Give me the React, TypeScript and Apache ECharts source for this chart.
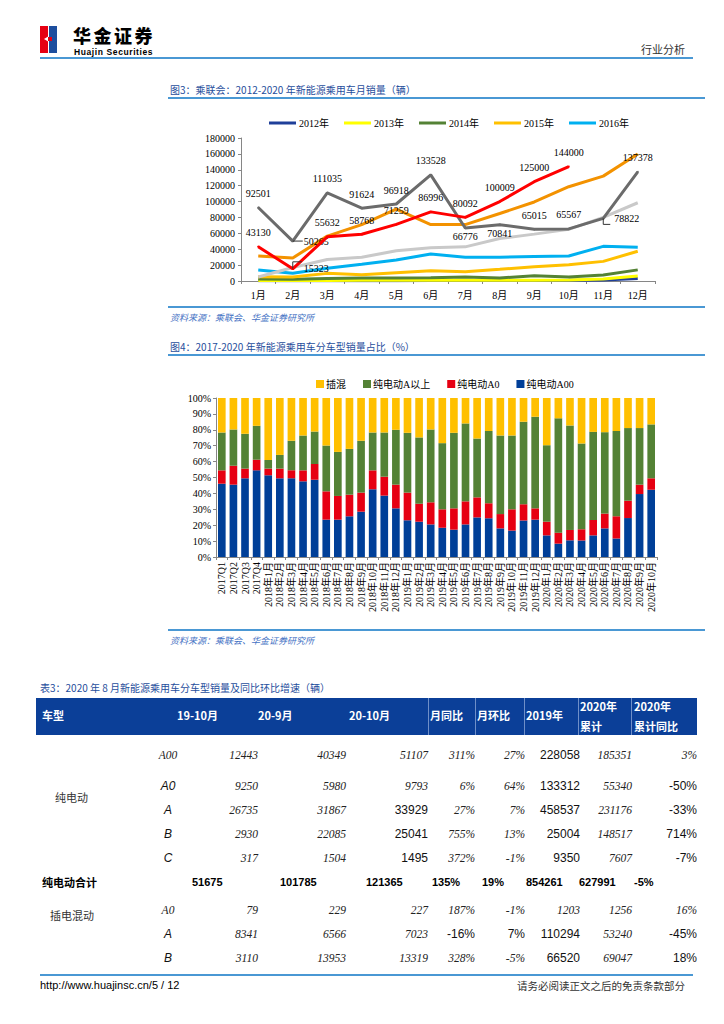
import React, { useEffect, useRef } from "react";
import * as echarts from "echarts";

// ---------- Chart 1 data ----------
const months = ["1月", "2月", "3月", "4月", "5月", "6月", "7月", "8月", "9月", "10月", "11月", "12月"];
const yearNames = ["2012年", "2013年", "2014年", "2015年", "2016年", "2017年", "2018年", "2019年", "2020年"];
const y2012 = [200, 300, 400, 400, 400, 500, 500, 600, 700, 800, 1200, 3300];
const y2013 = [500, 500, 700, 800, 900, 900, 1000, 1000, 1100, 1200, 2500, 6300];
const y2014 = [2500, 2200, 3300, 3800, 3800, 4200, 5000, 3800, 6700, 5000, 7500, 14000];
const y2015 = [5500, 5000, 9600, 8000, 10500, 13000, 11700, 14700, 18000, 20500, 24700, 37400];
const y2016 = [13800, 9700, 16000, 21000, 26400, 34000, 29800, 30000, 30800, 31500, 43600, 42500];
const y2017 = [5000, 17000, 27000, 29800, 38000, 42000, 43000, 53600, 59000, 65000, 80000, 98500];
const y2018 = [31500, 29000, 56500, 71000, 90500, 71000, 71000, 85000, 99500, 118700, 132000, 160000];
const y2019 = [92501, 50265, 111035, 91624, 96918, 133528, 66776, 70841, 65015, 65567, 78822, 137378];
const y2020 = [43130, 15323, 55632, 58768, 71259, 86996, 80092, 100009, 125000, 144000];
const lineColors = ["#1F3F99", "#FFFF00", "#548235", "#FFC000", "#00B0F0", "#C9C9C9", "#F39200", "#6B6B6B", "#FF0000"];

// ---------- Chart 2 data ----------
const periods = [
  "2017Q1", "2017Q2", "2017Q3", "2017Q4",
  "2018年1月", "2018年2月", "2018年3月", "2018年4月", "2018年5月", "2018年6月", "2018年7月", "2018年8月", "2018年9月", "2018年10月", "2018年11月", "2018年12月",
  "2019年1月", "2019年2月", "2019年3月", "2019年4月", "2019年5月", "2019年6月", "2019年7月", "2019年8月", "2019年9月", "2019年10月", "2019年11月", "2019年12月",
  "2020年1月", "2020年2月", "2020年3月", "2020年4月", "2020年5月", "2020年6月", "2020年7月", "2020年8月", "2020年9月", "2020年10月",
];
const shareA00 = [46.1, 45.5, 49.5, 54.5, 51.4, 49.5, 49.5, 47.6, 48.6, 23.5, 23.5, 25.6, 28.5, 42.6, 38.6, 30.6, 23.1, 22.2, 20.5, 18.4, 17.2, 20.5, 24.9, 24.3, 18.0, 16.6, 22.9, 23.5, 13.6, 8.4, 10.5, 10.3, 13.6, 18.0, 11.7, 24.5, 39.6, 42.3];
const shareA0 = [8.4, 11.9, 6.1, 6.7, 4.2, 6.1, 5.0, 6.9, 9.9, 17.8, 14.9, 13.6, 12.0, 11.9, 11.9, 14.9, 17.4, 11.3, 13.9, 11.6, 13.4, 14.5, 12.6, 9.5, 9.0, 13.4, 10.2, 7.1, 8.6, 6.9, 6.5, 7.1, 9.7, 9.3, 13.9, 10.9, 5.9, 7.2];
const shareAPlus = [23.8, 22.8, 21.9, 21.3, 5.4, 8.6, 18.6, 21.9, 20.4, 28.8, 27.7, 28.8, 32.6, 23.8, 27.8, 34.5, 37.6, 41.7, 45.8, 41.6, 47.5, 49.0, 37.0, 45.4, 49.4, 46.4, 52.0, 57.6, 48.1, 71.9, 65.7, 54.0, 55.4, 51.2, 53.6, 45.7, 35.6, 33.9];
const sharePHEV = [21.7, 19.8, 22.5, 17.5, 39.0, 35.8, 26.9, 23.6, 21.1, 29.9, 33.9, 32.0, 26.9, 21.7, 21.7, 20.0, 21.9, 24.8, 19.8, 28.4, 21.9, 16.0, 25.5, 20.8, 23.6, 23.6, 14.9, 11.8, 29.7, 12.8, 17.3, 28.6, 21.3, 21.5, 20.8, 18.9, 18.9, 16.6];
const shareNames = ["插混", "纯电动A以上", "纯电动A0", "纯电动A00"];
const shareColors = ["#FFC000", "#548235", "#E60012", "#003F98"];

// ---------- Table data ----------
const tableHead = ["车型", "19-10月", "20-9月", "20-10月", "月同比", "月环比", "2019年", "2020年", "2020年"];
const tableHead2 = ["", "", "", "", "", "", "", "累计", "累计同比"];
const evLabel = "纯电动";
const evTypes = ["A00", "A0", "A", "B", "C"];
const evRows = [
  ["12443", "40349", "51107", "311%", "27%", "228058", "185351", "3%"],
  ["9250", "5980", "9793", "6%", "64%", "133312", "55340", "-50%"],
  ["26735", "31867", "33929", "27%", "7%", "458537", "231176", "-33%"],
  ["2930", "22085", "25041", "755%", "13%", "25004", "148517", "714%"],
  ["317", "1504", "1495", "372%", "-1%", "9350", "7607", "-7%"],
];
const evFonts = ["ssssssass", "asssssasa", "assassasa", "assassasa", "assassasa"];
const evTotalLabel = "纯电动合计";
const evTotal = ["51675", "101785", "121365", "135%", "19%", "854261", "627991", "-5%"];
const phevLabel = "插电混动";
const phevTypes = ["A0", "A", "B"];
const phevRows = [
  ["79", "229", "227", "187%", "-1%", "1203", "1256", "16%"],
  ["8341", "6566", "7023", "-16%", "7%", "110294", "53240", "-45%"],
  ["3110", "13953", "13319", "328%", "-5%", "66520", "69047", "18%"],
];
const phevFonts = ["sssssssss", "asssaaasa", "asssssasa"];

// ---------- layout constants ----------
const SERIF = "'Liberation Serif', 'Times New Roman', 'Noto Sans CJK SC', serif";
const SANS = "'Liberation Sans', Arial, 'Noto Sans CJK SC', sans-serif";
const CJK = "'Noto Sans CJK SC', 'Liberation Sans', sans-serif";
const BLUE_LINE = "#4A98D4";
const TITLE_BLUE = "#1F4E9C";

const colRight = [0, 258, 346, 428, 475, 525, 580, 632, 697];
const totalLeft = [42, 192, 280, 366, 432, 482, 526, 579, 634];
const headLeft = [42, 177, 258, 349, 430, 477, 526, 580, 634];
const dividers = [428, 475, 524, 578, 631];
const evY = [756, 787, 811, 835, 859];
const totalY = 883;
const phevY = [911, 935, 959];

function T(props: { x: number; y: number; align?: "left" | "right" | "center"; size?: number; lh?: number; style?: React.CSSProperties; children: React.ReactNode }) {
  const { x, y, align = "left", size = 11, lh, style, children } = props;
  const h = lh || size * 1.4;
  const base: React.CSSProperties = {
    position: "absolute",
    top: y - h / 2,
    height: h,
    lineHeight: h + "px",
    fontSize: size,
    whiteSpace: "nowrap",
  };
  if (align === "left") base.left = x;
  else if (align === "right") { base.right = 724 - x; base.textAlign = "right"; }
  else { base.left = x - 100; base.width = 200; base.textAlign = "center"; }
  return <div style={{ ...base, ...style }}>{children}</div>;
}

function HLine(props: { x1: number; x2: number; y: number; color?: string; w?: number }) {
  const { x1, x2, y, color = BLUE_LINE, w = 2 } = props;
  return <div style={{ position: "absolute", left: x1, top: y - w / 2, width: x2 - x1, height: w, background: color }} />;
}

function cellStyle(f: string): React.CSSProperties {
  if (f === "s") return { fontFamily: SERIF, fontStyle: "italic", fontSize: 11.5, color: "#222" };
  return { fontFamily: SANS, fontSize: 12, color: "#111" };
}

function buildChart1(): echarts.EChartsOption {
  const all = [y2012, y2013, y2014, y2015, y2016, y2017, y2018, y2019, y2020];
  const pos2019 = ["top", "right", "top", "top", "top", "top", "bottom", "bottom", "top", "top", "right", "top"];
  const pos2020 = ["top", "right", "top", "top", "top", "top", "top", "top", "top", "top"];
  const mk = (vals: number[], pos: string[], offsets: Record<number, number[]>) =>
    vals.map((v, i) => ({
      value: v,
      label: {
        show: true,
        position: pos[i] as any,
        distance: pos[i] === "top" ? 8 : pos[i] === "bottom" ? 3 : 10,
        offset: offsets[i] || [0, 0],
      },
    }));
  const series: any[] = all.map((d, idx) => {
    let data: any[] = d;
    if (idx === 7) data = mk(d, pos2019, { 10: [0, 6] });
    if (idx === 8) data = mk(d, pos2020, { 1: [0, -7] });
    const labelled = idx >= 7;
    return {
      name: yearNames[idx],
      type: "line",
      data,
      symbol: labelled ? "circle" : "none",
      symbolSize: labelled ? 2 : 0,
      showSymbol: labelled,
      lineStyle: { width: 3, color: lineColors[idx] },
      itemStyle: { color: lineColors[idx] },
      label: { show: labelled, fontFamily: SERIF, fontSize: 10, color: "#000" },
      labelLayout: { hideOverlap: false },
      z: 2 + idx,
    };
  });
  return {
    animation: false,
    legend: {
      data: yearNames.slice(0, 5),
      left: 104,
      top: 13,
      icon: "rect",
      itemWidth: 27,
      itemHeight: 3,
      itemGap: 15,
      textStyle: { fontFamily: SERIF, fontSize: 10, color: "#000", padding: [0, 0, 0, -2] },
    },
    grid: { left: 81, top: 38, width: 414, height: 143, containLabel: false },
    xAxis: {
      type: "category",
      data: months,
      boundaryGap: true,
      axisLine: { lineStyle: { color: "#868686", width: 1 } },
      axisTick: { show: true, length: 3, lineStyle: { color: "#868686" } },
      axisLabel: { fontFamily: SERIF, fontSize: 10, color: "#000", margin: 9 },
    },
    yAxis: {
      type: "value",
      min: 0,
      max: 180000,
      interval: 20000,
      axisLine: { show: true, lineStyle: { color: "#868686" } },
      axisTick: { show: true, length: 3, lineStyle: { color: "#868686" } },
      splitLine: { show: false },
      axisLabel: { fontFamily: SERIF, fontSize: 10, color: "#000", margin: 6, formatter: (v: number) => String(v) },
    },
    series,
  };
}

function buildChart2(): echarts.EChartsOption {
  const stackOrder = [
    { name: shareNames[3], data: shareA00, color: shareColors[3] },
    { name: shareNames[2], data: shareA0, color: shareColors[2] },
    { name: shareNames[1], data: shareAPlus, color: shareColors[1] },
    { name: shareNames[0], data: sharePHEV, color: shareColors[0] },
  ];
  return {
    animation: false,
    legend: {
      data: shareNames,
      left: 151,
      top: 14,
      icon: "rect",
      itemWidth: 8,
      itemHeight: 8,
      itemGap: 17,
      textStyle: { fontFamily: SERIF, fontSize: 10, color: "#000", padding: [0, 0, 0, -3] },
    },
    grid: { left: 56, top: 38, width: 441, height: 159, containLabel: false },
    xAxis: {
      type: "category",
      data: periods,
      axisLine: { lineStyle: { color: "#868686" } },
      axisTick: { show: true, length: 3, lineStyle: { color: "#868686" } },
      axisLabel: { rotate: 90, interval: 0, fontFamily: SERIF, fontSize: 10, color: "#000", margin: 5 },
    },
    yAxis: {
      type: "value",
      min: 0,
      max: 100,
      interval: 10,
      axisLine: { show: true, lineStyle: { color: "#868686" } },
      axisTick: { show: true, length: 3, lineStyle: { color: "#868686" } },
      splitLine: { show: false },
      axisLabel: { formatter: "{value}%", fontFamily: SERIF, fontSize: 10, color: "#000", margin: 5 },
    },
    series: stackOrder.map((s) => ({
      name: s.name,
      type: "bar",
      stack: "share",
      data: s.data,
      barCategoryGap: "34%",
      itemStyle: { color: s.color },
    })),
  };
}

export default function App() {
  const c1 = useRef<HTMLDivElement>(null);
  const c2 = useRef<HTMLDivElement>(null);
  useEffect(() => {
    const ch1 = echarts.init(c1.current!, undefined, { renderer: "svg" });
    ch1.setOption(buildChart1());
    // leader lines for the labels moved to the right, placed through the library's own scale
    const p = (i: number, v: number) => ch1.convertToPixel({ seriesIndex: 7 }, [i, v]) as number[];
    const a = p(1, y2019[1]);
    const b = p(1, y2020[1]);
    const c = p(10, y2019[10]);
    ch1.setOption({
      graphic: [
        { type: "polyline", silent: true, z: 50, shape: { points: [[a[0], a[1]], [a[0] + 10, a[1]]] }, style: { stroke: "#333", lineWidth: 1, fill: null } },
        { type: "polyline", silent: true, z: 50, shape: { points: [[b[0], b[1]], [b[0], b[1] - 7], [b[0] + 9, b[1] - 7]] }, style: { stroke: "#333", lineWidth: 1, fill: null } },
        { type: "polyline", silent: true, z: 50, shape: { points: [[c[0], c[1]], [c[0], c[1] + 6], [c[0] + 7, c[1] + 6]] }, style: { stroke: "#333", lineWidth: 1, fill: null } },
      ],
    });
    const ch2 = echarts.init(c2.current!, undefined, { renderer: "svg" });
    ch2.setOption(buildChart2());
    return () => {
      ch1.dispose();
      ch2.dispose();
    };
  }, []);

  return (
    <div style={{ position: "absolute", left: 0, top: 0, width: 724, height: 1024, background: "#fff", overflow: "hidden", fontFamily: CJK, color: "#000" }}>
      {/* Header logo */}
      <div style={{ position: "absolute", left: 40, top: 26, width: 8, height: 27, background: "#E60012" }} />
      <div style={{ position: "absolute", left: 49, top: 26, width: 8, height: 27, background: "#1D4E9E" }} />
      <div style={{ position: "absolute", left: 44, top: 36, width: 5, height: 6, background: "#fff", clipPath: "polygon(0 50%, 100% 0, 100% 100%)" }} />
      <div style={{ position: "absolute", left: 48, top: 37, width: 4, height: 4, background: "#E60012" }} />
      <T x={73} y={34.5} size={18} lh={18} style={{ fontFamily: CJK, fontWeight: 900, letterSpacing: 2.5 }}>华金证券</T>
      <T x={74} y={52} size={8.5} lh={9} style={{ fontFamily: SANS, fontWeight: 700, letterSpacing: 0.6 }}>Huajin Securities</T>
      <T x={685} y={50} align="right" size={11} style={{ color: "#333" }}>行业分析</T>
      <HLine x1={40} x2={693} y={58} />

      {/* Figure 3 */}
      <T x={170} y={90} size={10} style={{ color: TITLE_BLUE }}>图3：乘联会：2012-2020 年新能源乘用车月销量（辆）</T>
      <HLine x1={168} x2={705} y={98} w={1.5} />
      <div ref={c1} style={{ position: "absolute", left: 160, top: 100, width: 545, height: 205 }} />
      <HLine x1={168} x2={705} y={307} w={1.5} />
      <T x={170} y={318} size={9} style={{ color: "#4472C4", fontStyle: "italic" }}>资料来源：乘联会、华金证券研究所</T>

      {/* Figure 4 */}
      <T x={170} y={347} size={10} style={{ color: TITLE_BLUE }}>图4：2017-2020 年新能源乘用车分车型销量占比（%）</T>
      <HLine x1={168} x2={705} y={355} w={1.5} />
      <div ref={c2} style={{ position: "absolute", left: 160, top: 360, width: 545, height: 268 }} />
      <HLine x1={168} x2={705} y={630} w={1.5} />
      <T x={170} y={641} size={9} style={{ color: "#4472C4", fontStyle: "italic" }}>资料来源：乘联会、华金证券研究所</T>

      {/* Table 3 */}
      <T x={40} y={688} size={10} style={{ color: TITLE_BLUE }}>表3：2020 年 8 月新能源乘用车分车型销量及同比环比增速（辆）</T>
      <div style={{ position: "absolute", left: 36, top: 698, width: 661, height: 37, background: "#0B3F98" }} />
      {dividers.map((x, i) => (
        <div key={"d" + i} style={{ position: "absolute", left: x, top: 698, width: 1, height: 37, background: "#6F8FC8" }} />
      ))}
      {tableHead.map((h, i) => (
        <T key={"h" + i} x={headLeft[i]} y={tableHead2[i] ? 707 : 716} size={11} style={{ color: "#fff", fontWeight: 700 }}>{h}</T>
      ))}
      {tableHead2.map((h, i) =>
        h ? <T key={"h2" + i} x={headLeft[i]} y={727} size={11} style={{ color: "#fff", fontWeight: 700 }}>{h}</T> : null
      )}

      <T x={55} y={798} size={11} style={{ color: "#333" }}>{evLabel}</T>
      {evRows.map((row, r) => (
        <React.Fragment key={"ev" + r}>
          <T x={168} y={evY[r]} align="center" style={cellStyle(evFonts[r][0])}><span style={{ fontStyle: "italic" }}>{evTypes[r]}</span></T>
          {row.map((v, c) => (
            <T key={c} x={colRight[c + 1]} y={evY[r]} align="right" style={cellStyle(evFonts[r][c + 1])}>{v}</T>
          ))}
        </React.Fragment>
      ))}
      <T x={totalLeft[0]} y={totalY} size={11} style={{ fontWeight: 700 }}>{evTotalLabel}</T>
      {evTotal.map((v, c) => (
        <T key={"tot" + c} x={totalLeft[c + 1]} y={totalY} size={11} style={{ fontFamily: SANS, fontWeight: 700 }}>{v}</T>
      ))}
      <T x={50} y={916} size={11} style={{ color: "#333" }}>{phevLabel}</T>
      {phevRows.map((row, r) => (
        <React.Fragment key={"ph" + r}>
          <T x={168} y={phevY[r]} align="center" style={cellStyle(phevFonts[r][0])}><span style={{ fontStyle: "italic" }}>{phevTypes[r]}</span></T>
          {row.map((v, c) => (
            <T key={c} x={colRight[c + 1]} y={phevY[r]} align="right" style={cellStyle(phevFonts[r][c + 1])}>{v}</T>
          ))}
        </React.Fragment>
      ))}

      {/* Footer */}
      <HLine x1={40} x2={693} y={975} />
      <T x={40} y={986} size={11} style={{ fontFamily: SANS }}>http://www.huajinsc.cn/5 / 12</T>
      <T x={685} y={986} align="right" size={10.5} style={{ color: "#333" }}>请务必阅读正文之后的免责条款部分</T>
    </div>
  );
}
